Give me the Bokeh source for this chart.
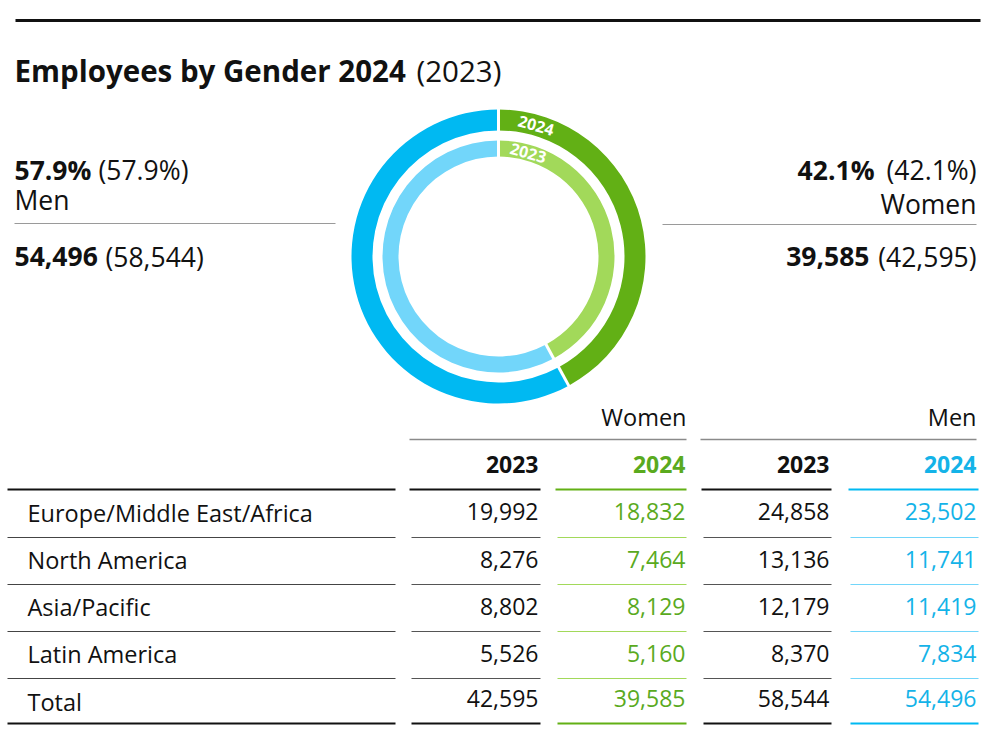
import math
from bokeh.plotting import figure
from bokeh.models import Range1d
from bokeh.embed import file_html
from bokeh.resources import INLINE
from bokeh.core.properties import value

# ---------------- data ----------------
regions = ["Europe/Middle East/Africa", "North America", "Asia/Pacific", "Latin America"]
women_2023 = [19992, 8276, 8802, 5526]
women_2024 = [18832, 7464, 8129, 5160]
men_2023 = [24858, 13136, 12179, 8370]
men_2024 = [23502, 11741, 11419, 7834]
total_label = "Total"
total_women = {"2023": 42595, "2024": 39585}
total_men = {"2023": 58544, "2024": 54496}
years = ["2023", "2024"]
title_bold = "Employees by Gender 2024"
title_norm = "(2023)"

# ---------------- style ----------------
FONT = "Open Sans"
BLACK = "#111111"
GREEN = "#62b015"
GREEN_L = "#a2d95a"
BLUE = "#00b9f2"
BLUE_L = "#72d6fa"
GREEN_TXT = "#5aaa1e"
BLUE_TXT = "#14b3e8"

p = figure(width=991, height=746, x_range=Range1d(0, 991), y_range=Range1d(-746, 0),
           output_backend="svg", toolbar_location=None,
           x_axis_location=None, y_axis_location=None, min_border=0)
p.grid.visible = False
p.outline_line_color = None
p.background_fill_color = "white"
p.border_fill_color = "white"


def txt(x, y, s, size, bold=False, color=BLACK, align="left", baseline="middle", angle=0.0):
    p.text(x=[x], y=[-y], text=[s], text_font=value(FONT), text_font_size=f"{size}px",
           text_font_style="bold" if bold else "normal", text_color=color,
           text_align=align, text_baseline=baseline, angle=angle)


def hline(x0, x1, y, color, w):
    p.segment(x0=[x0], y0=[-y], x1=[x1], y1=[-y], line_color=color, line_width=w)


# top rule and title
hline(15, 980, 20, BLACK, 3)
txt(14, 70, title_bold, 29.5, bold=True)
txt(416, 70, title_norm, 29.5)

# ---------------- donut ----------------
tw24, tm24 = total_women["2024"], total_men["2024"]
tw23, tm23 = total_women["2023"], total_men["2023"]
cx, cy = 498, -256
top = math.pi / 2
rings = [
    (126, 147, tw24 / (tw24 + tm24), GREEN, BLUE),
    (100, 116, tw23 / (tw23 + tm23), GREEN_L, BLUE_L),
]
for r_in, r_out, share, cw, cm in rings:
    a = share * 2 * math.pi
    p.annular_wedge(x=[cx], y=[cy], inner_radius=r_in, outer_radius=r_out,
                    start_angle=top - a, end_angle=top, fill_color=cw, line_color=None)
    p.annular_wedge(x=[cx], y=[cy], inner_radius=r_in, outer_radius=r_out,
                    start_angle=top, end_angle=top - a + 2 * math.pi, fill_color=cm, line_color=None)
    for ang in (top, top - a):
        p.segment(x0=[cx + (r_in - 2) * math.cos(ang)], y0=[cy + (r_in - 2) * math.sin(ang)],
                  x1=[cx + (r_out + 2) * math.cos(ang)], y1=[cy + (r_out + 2) * math.sin(ang)],
                  line_color="white", line_width=3)

lab_ang = math.radians(16)
for r_mid, yr in ((136.5, "2024"), (108, "2023")):
    p.text(x=[cx + r_mid * math.sin(lab_ang)], y=[cy + r_mid * math.cos(lab_ang)], text=[yr],
           text_font=value(FONT), text_font_size="16px", text_font_style="bold",
           text_color="white", text_align="center", text_baseline="middle", angle=-lab_ang)

# ---------------- side labels ----------------
pm24 = 100 * tm24 / (tm24 + tw24)
pm23 = 100 * tm23 / (tm23 + tw23)
pw24 = 100 * tw24 / (tm24 + tw24)
pw23 = 100 * tw23 / (tm23 + tw23)

SZ = 26.5
txt(14, 169, f"{pm24:.1f}%", SZ, bold=True)
txt(98, 169, f"({pm23:.1f}%)", SZ)
txt(14, 199, "Men", SZ)
hline(14, 335, 223, "#9a9a9a", 1)
txt(14, 256, f"{tm24:,}", SZ, bold=True)
txt(105, 256, f"({tm23:,})", SZ)

txt(976, 169, f"({pw23:.1f}%)", SZ, align="right")
txt(874, 169, f"{pw24:.1f}%", SZ, bold=True, align="right")
txt(976, 203, "Women", SZ, align="right")
hline(662, 976, 224, "#9a9a9a", 1)
txt(976, 256, f"({tw23:,})", SZ, align="right")
txt(869, 256, f"{tw24:,}", SZ, bold=True, align="right")

# ---------------- table ----------------
col_right = [538, 685, 829, 976]
col_span = [(409, 540), (555, 686), (701, 831), (848, 978)]
col_head_color = [BLACK, GREEN_TXT, BLACK, BLUE_TXT]
col_line_strong = [BLACK, GREEN, BLACK, BLUE]
col_line_light = ["#555555", GREEN_L, "#555555", BLUE_L]
col_txt_color = [BLACK, GREEN_TXT, BLACK, BLUE_TXT]

txt(686, 416, "Women", 23.5, align="right")
txt(976, 416, "Men", 23.5, align="right")
hline(409, 686, 439, "#8a8a8a", 1.5)
hline(700, 976, 439, "#8a8a8a", 1.5)

for i, yr in enumerate(years + years):
    txt(col_right[i], 464, yr, 23, bold=True, color=col_head_color[i], align="right")

header_line_y = 489
row_lines = [537, 584, 631, 678]
bottom_y = 723

hline(7, 395, header_line_y, BLACK, 2)
for i, (x0, x1) in enumerate(col_span):
    hline(x0, x1, header_line_y, col_line_strong[i], 2)

for y in row_lines:
    hline(7, 395, y, "#444444", 1.2)
    for i, (x0, x1) in enumerate(col_span):
        hline(x0 + 2, x1, y, col_line_light[i], 1.2)

hline(7, 395, bottom_y, BLACK, 2)
for i, (x0, x1) in enumerate(col_span):
    hline(x0 + 2, x1, bottom_y, col_line_strong[i], 2)

bounds = [header_line_y] + row_lines + [bottom_y]
centers = [(bounds[k] + bounds[k + 1]) / 2 for k in range(len(bounds) - 1)]

cols = [women_2023, women_2024, men_2023, men_2024]
for r, name in enumerate(regions):
    yc = centers[r]
    txt(27, yc - 1, name, 23.5)
    for i, col in enumerate(cols):
        txt(col_right[i], yc - 2, f"{col[r]:,}", 23, color=col_txt_color[i], align="right")

yc = centers[-1]
txt(27, yc + 1, total_label, 23.5)
tot_vals = [total_women["2023"], total_women["2024"], total_men["2023"], total_men["2024"]]
for i, v in enumerate(tot_vals):
    txt(col_right[i], yc - 3, f"{v:,}", 23, color=col_txt_color[i], align="right")

open("out.html", "w").write(file_html(p, INLINE))
